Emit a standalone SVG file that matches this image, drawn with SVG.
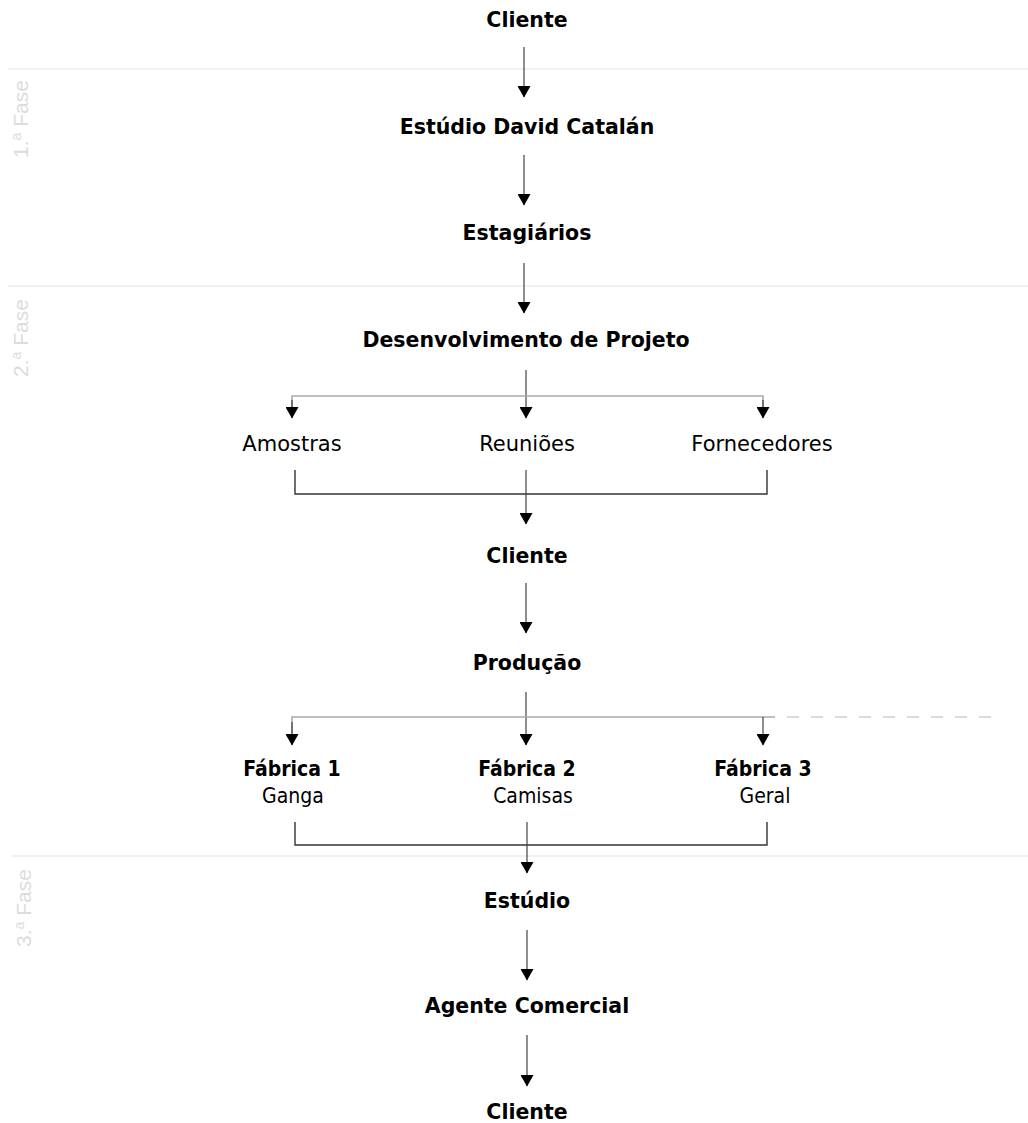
<svg xmlns="http://www.w3.org/2000/svg" width="1028" height="1123" viewBox="0 0 1028 1123">
<defs>
<marker id="ah" markerUnits="userSpaceOnUse" markerWidth="12" markerHeight="13" refX="11" refY="6.5" orient="auto" viewBox="0 0 12 13">
<path d="M0,0 L11.5,6.5 L0,13 Z" fill="#000"/>
</marker>
<style>
.b{font-family:"DejaVu Sans","Noto Sans",sans-serif;font-weight:700;font-size:20.5px;fill:#000;text-anchor:middle}
.r{font-family:"DejaVu Sans","Noto Sans",sans-serif;font-weight:400;font-size:21px;fill:#000;text-anchor:middle}
.fb{font-family:"DejaVu Sans Condensed","DejaVu Sans",sans-serif;font-stretch:condensed;font-weight:700;font-size:21px;fill:#000;text-anchor:middle}
.fr{font-family:"DejaVu Sans Condensed","DejaVu Sans",sans-serif;font-stretch:condensed;font-weight:400;font-size:21px;fill:#000;text-anchor:middle}
.ph{font-family:"Liberation Sans",Arial,sans-serif;font-size:21px;fill:#dcdcdc}
.pl{stroke:#e4e4e4;stroke-width:1.2;fill:none}
.v{stroke:#444;stroke-width:1.2;fill:none}
.hb{stroke:#aaa;stroke-width:1.6;fill:none}
.br{stroke:#333;stroke-width:1.4;fill:none}
.ar{marker-end:url(#ah)}
</style>
</defs>

<g id="phases">
<line class="pl" x1="8" y1="69" x2="1028" y2="69"/>
<line class="pl" x1="8" y1="286" x2="1028" y2="286"/>
<line class="pl" x1="11" y1="856" x2="1028" y2="856"/>
<text class="ph" transform="translate(28,158) rotate(-90)">1.<tspan font-size="14" dy="-7">a</tspan><tspan dy="7"> Fase</tspan></text>
<text class="ph" transform="translate(28,377) rotate(-90)">2.<tspan font-size="14" dy="-7">a</tspan><tspan dy="7"> Fase</tspan></text>
<text class="ph" transform="translate(31,947) rotate(-90)">3.<tspan font-size="14" dy="-7">a</tspan><tspan dy="7"> Fase</tspan></text>
</g>

<g id="connectors">
<line class="v ar" x1="524" y1="47" x2="524" y2="97"/>
<line class="v ar" x1="524" y1="155" x2="524" y2="205"/>
<line class="v ar" x1="524" y1="263" x2="524" y2="313"/>
<line class="v ar" x1="526" y1="370" x2="526" y2="418"/>
<polyline class="hb" points="292,410 292,396 763,396 763,410"/>
<line class="v ar" x1="292" y1="400" x2="292" y2="418"/>
<line class="v ar" x1="763" y1="400" x2="763" y2="418"/>
<polyline class="br" points="295,470 295,494 767,494 767,470"/>
<line class="v ar" x1="526" y1="470" x2="526" y2="524"/>
<line class="v ar" x1="526" y1="583" x2="526" y2="633"/>
<line class="v ar" x1="526" y1="692" x2="526" y2="745"/>
<polyline class="hb" points="292,735 292,717 775,717"/>
<line class="v ar" x1="292" y1="722" x2="292" y2="745"/>
<line class="v ar" x1="763" y1="717" x2="763" y2="745"/>
<line x1="775" y1="717" x2="995" y2="717" stroke="#d0d0d0" stroke-width="1.6" stroke-dasharray="12,12" stroke-dashoffset="-12"/>
<polyline class="br" points="295,822 295,845 767,845 767,822"/>
<line class="v ar" x1="527" y1="822" x2="527" y2="873"/>
<line class="v ar" x1="527" y1="930" x2="527" y2="980"/>
<line class="v ar" x1="527" y1="1035" x2="527" y2="1086"/>
</g>

<g id="n1"><text class="b" x="527" y="27">Cliente</text></g>
<g id="n2"><text class="b" x="527" y="134">Estúdio David Catalán</text></g>
<g id="n3"><text class="b" x="527" y="240">Estagiários</text></g>
<g id="n4"><text class="b" x="526" y="347">Desenvolvimento de Projeto</text></g>
<g id="n5"><text class="r" x="292" y="451">Amostras</text></g>
<g id="n6"><text class="r" x="527" y="451">Reuniões</text></g>
<g id="n7"><text class="r" x="762" y="451">Fornecedores</text></g>
<g id="n8"><text class="b" x="527" y="563">Cliente</text></g>
<g id="n9"><text class="b" x="527" y="670">Produção</text></g>
<g id="n10"><text class="fb" x="292" y="776">Fábrica 1</text><text class="fr" x="293" y="803">Ganga</text></g>
<g id="n11"><text class="fb" x="527" y="776">Fábrica 2</text><text class="fr" x="533" y="803">Camisas</text></g>
<g id="n12"><text class="fb" x="763" y="776">Fábrica 3</text><text class="fr" x="765" y="803">Geral</text></g>
<g id="n13"><text class="b" x="527" y="908">Estúdio</text></g>
<g id="n14"><text class="b" x="527" y="1013">Agente Comercial</text></g>
<g id="n15"><text class="b" x="527" y="1119">Cliente</text></g>
</svg>
